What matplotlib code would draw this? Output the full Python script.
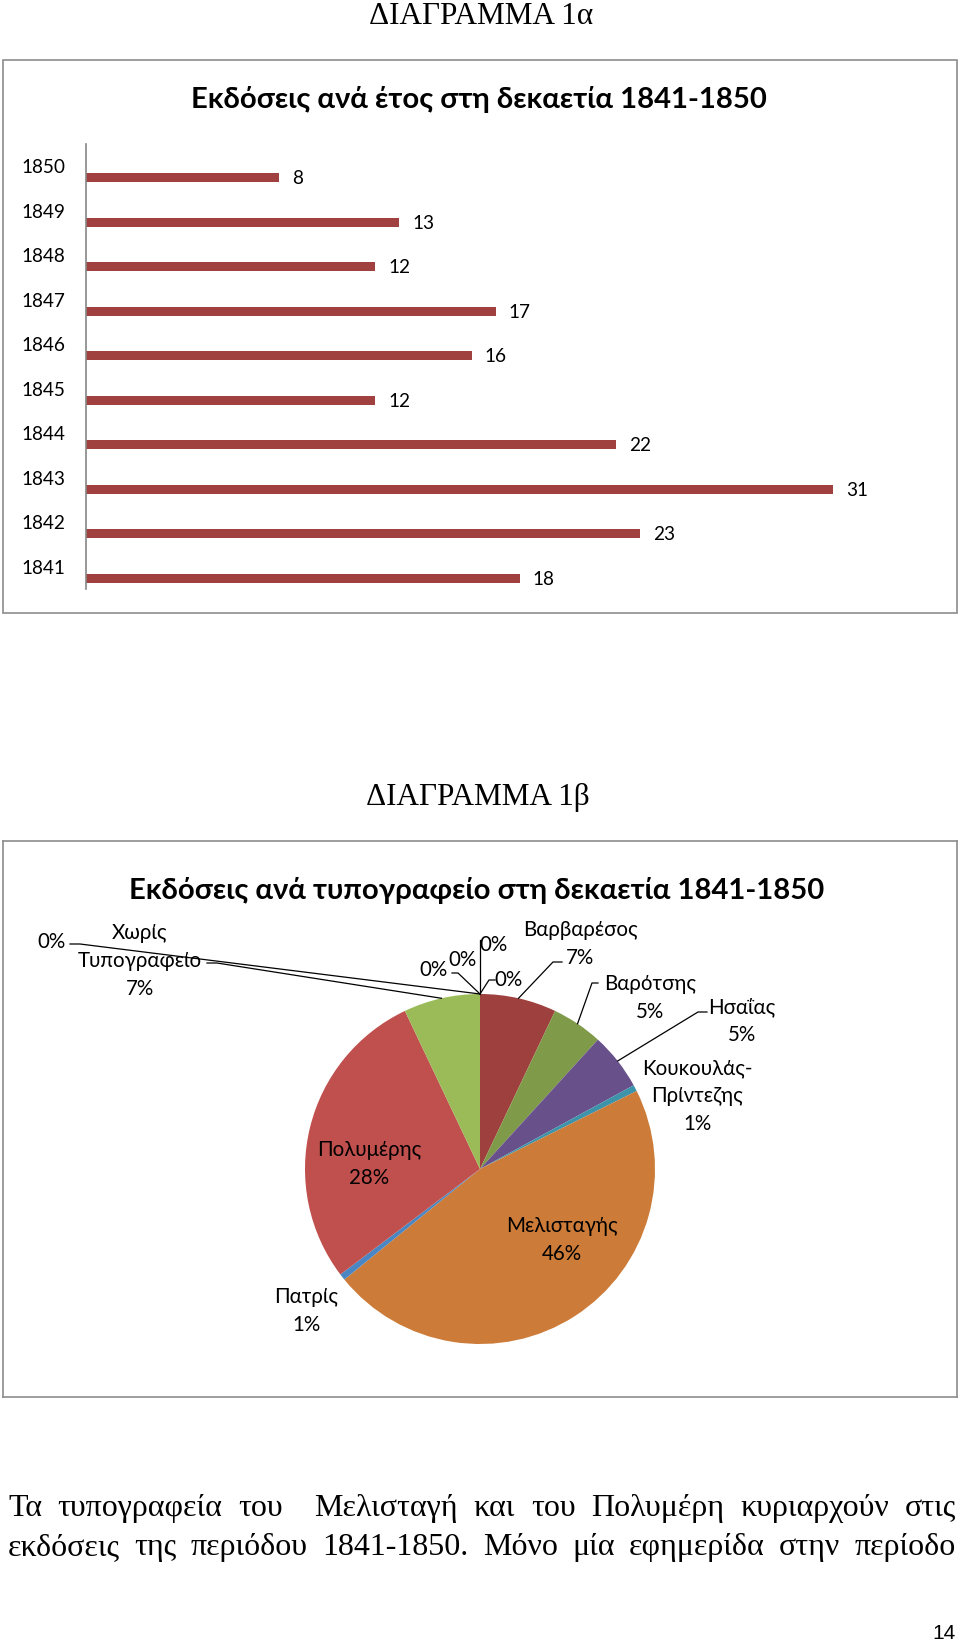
import numpy as np
import matplotlib
matplotlib.use('Agg')
import matplotlib.pyplot as plt
from matplotlib.patches import Rectangle
from matplotlib import font_manager as fm
from matplotlib.ft2font import FT2Font

# ---------------- data ----------------
years = ['1841', '1842', '1843', '1844', '1845', '1846', '1847', '1848', '1849', '1850']
counts = [18, 23, 31, 22, 12, 16, 17, 12, 13, 8]

printers = ['Βαρβαρέσος', 'Βαρότσης', 'Ησαΐας', 'Κουκουλάς-\nΠρίντεζης', 'Μελισταγής',
            'Πατρίς', 'Πολυμέρης', 'Χωρίς\nΤυπογραφείο', '', '', '', '', '']
printer_counts = [12, 8, 9, 1, 79, 1, 48, 12, 0, 0, 0, 0, 0]

title_a = 'ΔΙΑΓΡΑΜΜΑ 1α'
title_b = 'ΔΙΑΓΡΑΜΜΑ 1β'
chart_title_a = 'Εκδόσεις ανά έτος στη δεκαετία 1841-1850'
chart_title_b = 'Εκδόσεις ανά τυπογραφείο στη δεκαετία 1841-1850'
paragraph = ['Τα τυπογραφεία του  Μελισταγή και του Πολυμέρη κυριαρχούν στις',
             'εκδόσεις της περιόδου 1841-1850. Μόνο μία εφημερίδα στην περίοδο']
page_no = '14'

# ---------------- styles ----------------
BAR = '#A0403F'
pie_colors = ['#9E413E', '#7F9A48', '#68508A', '#3C93AA', '#CC7B38',
              '#4A86C2', '#C0504D', '#9BBB59', '#4F81BD', '#C0504D', '#9BBB59', '#8064A2', '#4BACC6']
BOX = '#8c8c8c'


def has_greek(fam):
    try:
        path = fm.findfont(fm.FontProperties(family=fam), fallback_to_default=False)
        return 0x3B1 in FT2Font(path).get_charmap()
    except Exception:
        return False


SANS = 'Lato' if has_greek('Lato') else 'Open Sans'
SERIF = 'Liberation Serif'

W, H = 960, 1643
fig = plt.figure(figsize=(W / 100, H / 100), dpi=100)
renderer = fig.canvas.get_renderer()


def fx(x):
    return x / W


def fy(y):
    return 1 - y / H


def fit(t, width):
    w = t.get_window_extent(renderer).width
    t.set_fontsize(t.get_fontsize() * width / w)
    return t


def fitted_size(s, width, **kw):
    t = fig.text(0, 0, s, fontsize=10, **kw)
    fit(t, width)
    fs = t.get_fontsize()
    t.remove()
    return fs


# ---------------- headings ----------------
fig.text(fx(481), fy(24), title_a, ha='center', va='baseline', fontsize=22.5, family=SERIF)
fig.text(fx(478), fy(805), title_b, ha='center', va='baseline', fontsize=22.5, family=SERIF)

# top box
fig.add_artist(Rectangle((fx(3), fy(613)), 954 / W, 553 / H, transform=fig.transFigure,
                         fill=False, edgecolor=BOX, lw=1.2))

t = fig.text(fx(479), fy(108), chart_title_a, ha='center', va='baseline',
             weight='bold', family=SANS, fontsize=10)
fit(t, 574)

# ---------------- bar chart ----------------
tick_fs = fitted_size('1850', 44, family=SANS)
ax1 = fig.add_axes([fx(86), fy(589), 843.5 / W, 445 / H])
ypos = np.arange(len(years))
bars = ax1.barh(ypos - 0.26, counts, height=0.2, color=BAR)
ax1.set_ylim(-0.5, len(years) - 0.5)
ax1.set_xlim(0, 35)
ax1.set_yticks(ypos)
ax1.set_yticklabels(years, fontsize=tick_fs, family=SANS)
ax1.tick_params(axis='y', length=0, pad=15)
ax1.set_xticks([])
for s in ['top', 'right', 'bottom']:
    ax1.spines[s].set_visible(False)
ax1.spines['left'].set_color('#868686')
ax1.spines['left'].set_linewidth(1.2)
ax1.patch.set_visible(False)
for b, v in zip(bars, counts):
    ax1.annotate(str(v), (v, b.get_y() + b.get_height() / 2), xytext=(9.4, -0.6),
                 textcoords='offset points', ha='left', va='center',
                 fontsize=tick_fs, family=SANS)

# ---------------- pie chart ----------------
CX, CY, R = 480, 1169, 175
ax2 = fig.add_axes([fx(3), fy(1397), 954 / W, 556 / H])
wedges, _ = ax2.pie(printer_counts, colors=pie_colors, startangle=90, counterclock=False,
                    radius=1, wedgeprops=dict(linewidth=0))
ax2.set_xlim((3 - CX) / R, (957 - CX) / R)
ax2.set_ylim(-(1397 - CY) / R, (CY - 841) / R)
ax2.set_aspect('auto')
ax2.set_frame_on(True)
for s in ax2.spines.values():
    s.set_color(BOX)
    s.set_linewidth(1.2)
ax2.set_xticks([])
ax2.set_yticks([])

fig.text(fx(477), fy(899), chart_title_b, ha='center', va='baseline',
         weight='bold', family=SANS, fontsize=10)
fit(fig.texts[-1], 695)


def d(xp, yp):
    return ((xp - CX) / R, (CY - yp) / R)


pie_fs = fitted_size('Μελισταγής', 112, family=SANS)
total = sum(printer_counts)

# label layout (pixel centres of first line) and leader-line elbows
label_pos = [(580, 930), (650, 984), (742, 1007), (697, 1068), (562, 1226), (306, 1297),
             (369, 1150), (140, 933), (52, 942), (433, 970), (462, 960), (493, 945), (508, 980)]
leaders = [[(562, 962), (553, 962)], [(598, 983), (592, 983)], [(707, 1012), (698, 1012)],
           None, None, None, None, [(207, 963), (217, 963)], [(70, 944), (80, 944)],
           [(452, 973), (458, 973)], None, [(480, 940)], [(495, 980), (489, 980)]]
PITCH = 28

for i, (w, name, v) in enumerate(zip(wedges, printers, printer_counts)):
    pct = f'{v / total * 100:.0f}%'
    lines = (name.split('\n') if name else []) + [pct]
    x0, y0 = label_pos[i]
    for k, ln in enumerate(lines):
        ax2.text(*d(x0, y0 + k * PITCH), ln, ha='center', va='center',
                 fontsize=pie_fs, family=SANS)
    if leaders[i]:
        th = np.deg2rad((w.theta1 + w.theta2) / 2)
        ax_pts = [d(*p) for p in leaders[i]] + [(np.cos(th), np.sin(th))]
        xs, ys = zip(*ax_pts)
        ax2.plot(xs, ys, color='black', lw=0.9, clip_on=False)

# ---------------- paragraph ----------------


def justify(line, y_base, x0=8, x1=956, fs=23):
    tokens = line.split(' ')
    texts, widths = [], []
    for tok in tokens:
        if tok:
            tt = fig.text(0, fy(y_base), tok, fontsize=fs, family=SERIF, va='baseline', ha='left')
            texts.append(tt)
            widths.append(tt.get_window_extent(renderer).width)
        else:
            texts.append(None)
            widths.append(0)
    gap = (x1 - x0 - sum(widths)) / (len(tokens) - 1)
    x = x0
    for tt, wd in zip(texts, widths):
        if tt is not None:
            tt.set_x(fx(x))
        x += wd + gap


justify(paragraph[0], 1516)
justify(paragraph[1], 1555)

fig.text(fx(956), fy(1639), page_no, ha='right', va='baseline', fontsize=15, family='Liberation Sans')

fig.savefig('out.png', dpi=100)
